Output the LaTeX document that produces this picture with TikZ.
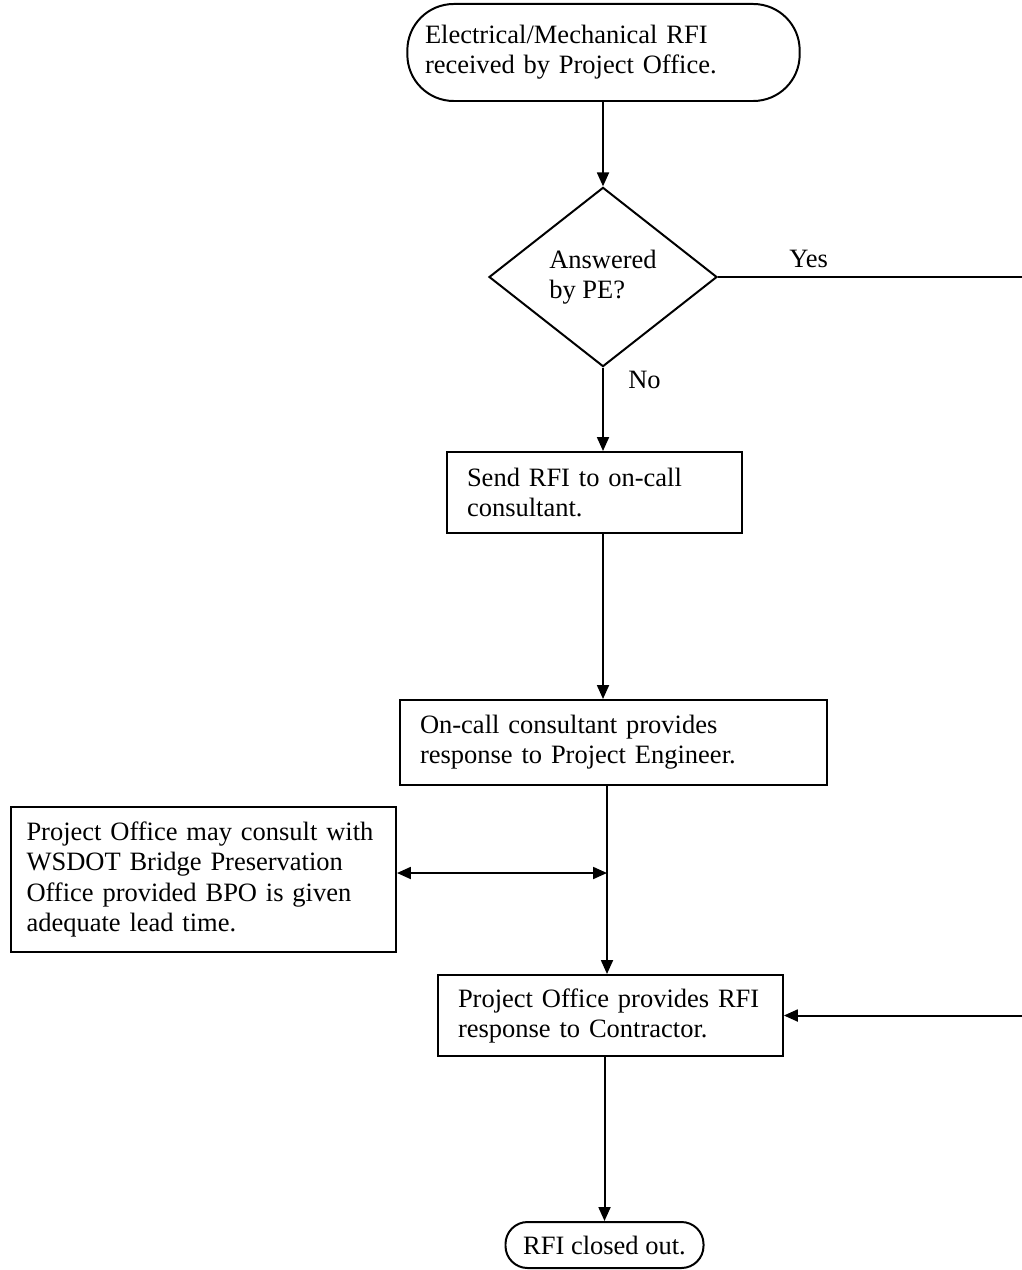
\documentclass[tikz,border=0pt]{standalone}
\usepackage{fontspec}
\setmainfont{Liberation Serif}
\usetikzlibrary{shapes.geometric,arrows.meta}
\newlength\pxu
\setlength\pxu{0.4528pt}
\begin{document}
\begin{tikzpicture}[x=\pxu,y=-\pxu,line width=0.9pt,
	font=\fontsize{12}{13.6}\selectfont]
	% styles for the chart
	\tikzset{flowline/.style={-{Triangle[length=6.3pt,width=5.4pt]}}}
	\tikzset{bothline/.style={{Triangle[length=6.3pt,width=5.4pt]}-{Triangle[length=6.3pt,width=5.4pt]}}}
	\tikzset{procbox/.style={draw,rectangle,align=left,inner xsep=9pt,inner ysep=3pt}}
	\tikzset{termbox/.style={draw,rectangle,inner xsep=8pt,inner ysep=3pt}}
	\tikzset{decbox/.style={draw,diamond,align=left,inner sep=2pt}}
	\useasboundingbox (0,0) rectangle (1021,1270);
	
	% Draw the boxes
	\node[termbox,align=left,rounded corners=21pt,text width=357\pxu,minimum height=97\pxu] (start) at (603.5,52.5) {Electrical/Mechanical RFI\\received by Project Office.};
	\node[decbox,minimum width=228\pxu,minimum height=160\pxu] (dec) at (603,277) {Answered\\by PE?};
	\node[procbox,text width=255\pxu,minimum height=81\pxu] (send) at (594.5,492.5) {Send RFI to on-call\\consultant.};
	\node[procbox,text width=387\pxu,minimum height=85\pxu] (cons) at (613.5,742.5) {On-call consultant provides\\response to Project Engineer.};
	\node[procbox,inner xsep=7pt,text width=354\pxu,minimum height=145\pxu] (bpo) at (203.5,879.5) {Project Office may consult with\\WSDOT Bridge Preservation\\Office provided BPO is given\\adequate lead time.};
	\node[procbox,text width=305\pxu,minimum height=81\pxu] (resp) at (610.5,1015.5) {Project Office provides RFI\\response to Contractor.};
	\node[termbox,align=center,rounded corners=10pt,minimum width=187\pxu,minimum height=46\pxu] (close) at (604.5,1245) {RFI closed out.};
	
	% points on the lines
	\coordinate (rt) at (1024,277);
	\coordinate (mid) at (607,873);
	
	% Draw the connectors
	\draw[flowline] (dec.north |- start.south) -- (dec.north);
	\draw[flowline] (dec.south) -- (dec.south |- send.north);
	\draw[flowline] (dec.south |- send.south) -- (dec.south |- cons.north);
	\draw[flowline] (mid |- cons.south) -- (mid |- resp.north);
	\draw[bothline] (bpo.east |- mid) -- (mid);
	\draw[flowline] (close.north |- resp.south) -- (close.north);
	\draw[flowline] (dec.east) -- (rt) |- (resp.east);
	
	% draw label
	\node[anchor=base west] (yes) at (781,268) {Yes};
	\node[anchor=base west] (no) at (620,388) {No};
\end{tikzpicture}
\end{document}
